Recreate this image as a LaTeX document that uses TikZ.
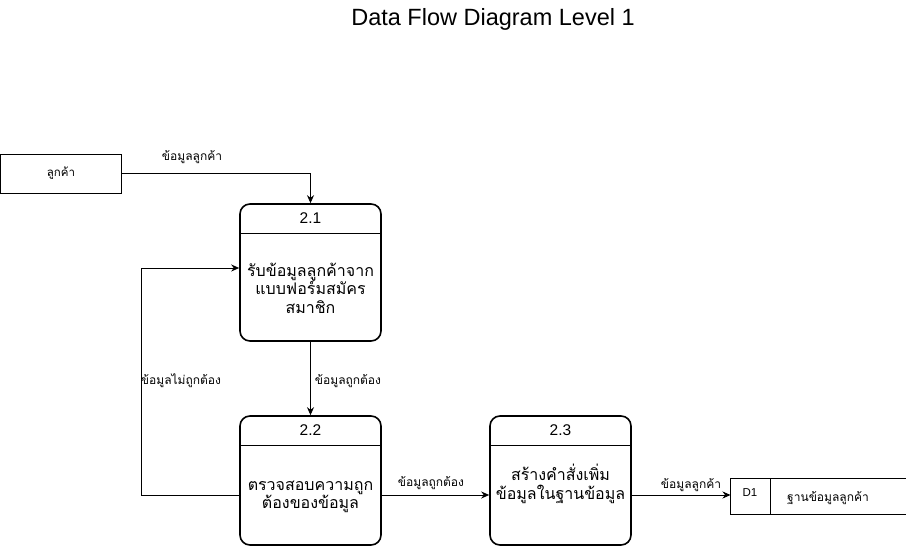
\documentclass[tikz,border=0pt]{standalone}
\usepackage{fontspec}
\setmainfont{Liberation Sans}
\newfontfamily\thai[Script=Thai]{Loma}
\usetikzlibrary{arrows.meta,calc}
\begin{document}
\begin{tikzpicture}[x=1pt,y=-1pt,
  proc/.style={draw,line width=1.6pt,rounded corners=10pt,minimum width=141pt,minimum height=129pt,inner sep=0pt},
  flow/.style={line width=0.9pt,-{Stealth[length=8pt,width=7pt]}},
  lbl/.style={font=\thai\fontsize{12}{14}\selectfont,inner sep=1pt},
  body/.style={font=\thai\fontsize{16}{18.5}\selectfont,align=center,inner sep=0pt},
  num/.style={font=\fontsize{15.5}{18}\selectfont,inner sep=0pt}]
\useasboundingbox (0,0) rectangle (906,548);

% title
\node[font=\fontsize{23.5}{28}\selectfont] (title) at (493,19) {Data Flow Diagram Level 1};

% external entity
\node[draw,line width=0.9pt,minimum width=121pt,minimum height=39pt,inner sep=0pt,font=\thai\fontsize{11.5}{13}\selectfont] (ent) at (61,173.5) {ลูกค้า};

% processes
\node[proc,minimum height=137pt] (p1) at (310.5,272.5) {};
\node[proc] (p2) at (310.5,480.5) {};
\node[proc] (p3) at (560.5,480.5) {};
\foreach \p in {p1,p2,p3}
  \draw[line width=1pt] ($(\p.north west)+(0,30)$) -- ($(\p.north east)+(0,30)$);

\node[num] (n1) at ($(p1.north)+(0,15)$) {2.1};
\node[num] (n2) at ($(p2.north)+(0,15)$) {2.2};
\node[num] (n3) at ($(p3.north)+(0,15)$) {2.3};

\node[body] (t1) at (310.5,288) {รับข้อมูลลูกค้าจาก\\แบบฟอร์มสมัคร\\สมาชิก};
\node[body] (t2) at (310.5,497) {ตรวจสอบความถูก\\ต้องของข้อมูล};
\node[body] (t3) at (560.5,484) {สร้างคำสั่งเพิ่ม\\ข้อมูลในฐานข้อมูล};

% data store
\coordinate (dsTL) at (730.5,478);
\coordinate (dsBL) at (730.5,514);
\draw[line width=0.9pt] (906,478) -- (dsTL) -- (dsBL) -- (906,514);
\draw[line width=0.9pt] (770,478) -- (770,514);
\node[inner sep=0pt,font=\fontsize{11.5}{13}\selectfont] (d1) at (750,493) {D1};
\node[lbl] (dsname) at (828,498) {ฐานข้อมูลลูกค้า};
\coordinate (ds) at (730.5,495);

% flows
\draw[flow] (ent.east) -| (p1.north);
\node[lbl] (l1) at (192,157) {ข้อมูลลูกค้า};

\draw[flow] (p1.south) -- (p2.north);
\node[lbl] (l2) at (348,381) {ข้อมูลถูกต้อง};

\coordinate (loop) at (141,495);
\draw[flow] ([yshift=-14.5pt]p2.west) -- (loop) |- ([yshift=4.5pt]p1.west);
\node[lbl] (l3) at (181,381) {ข้อมูลไม่ถูกต้อง};

\draw[flow] ([yshift=-14.5pt]p2.east) -- ([yshift=-14.5pt]p3.west);
\node[lbl] (l4) at (431,483) {ข้อมูลถูกต้อง};

\draw[flow] ([yshift=-14.5pt]p3.east) -- (ds);
\node[lbl] (l5) at (691,485) {ข้อมูลลูกค้า};
\end{tikzpicture}
\end{document}
